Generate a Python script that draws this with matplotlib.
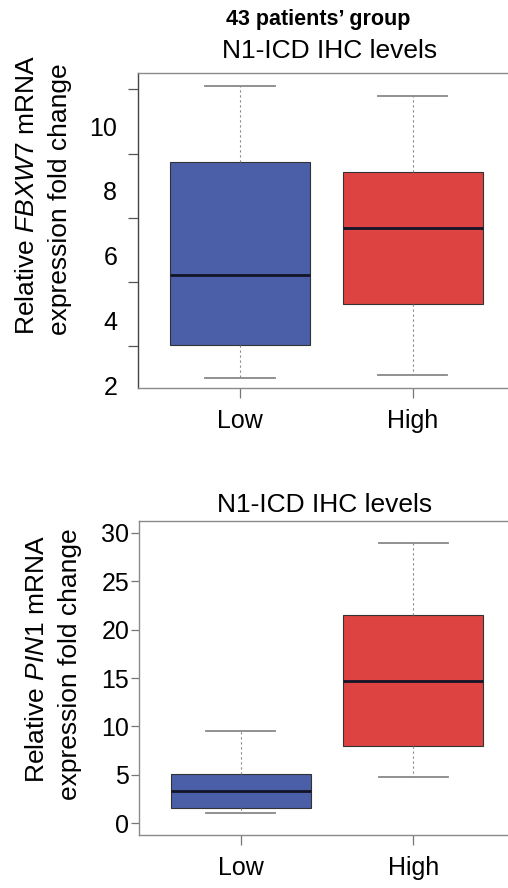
import matplotlib
matplotlib.use('Agg')
import matplotlib.pyplot as plt

plt.rcParams['font.family'] = ['Liberation Sans', 'DejaVu Sans']
plt.rcParams['mathtext.fontset'] = 'custom'
plt.rcParams['mathtext.rm'] = 'Liberation Sans'
plt.rcParams['mathtext.it'] = 'Liberation Sans:italic'

# data
groups = ['Low', 'High']
box_colors = ['#4b5ea8', '#dd4341']

fbxw7_whislo = [2.22, 2.31]
fbxw7_q1 = [3.24, 4.50]
fbxw7_med = [5.40, 6.85]
fbxw7_q3 = [8.89, 8.58]
fbxw7_whishi = [11.24, 10.93]
fbxw7_ticks = [2, 4, 6, 8, 10]
fbxw7_tick_marks = [3.2, 5.18, 7.16, 9.13, 11.14]

pin1_whislo = [1.03, 4.76]
pin1_q1 = [1.55, 7.97]
pin1_med = [3.31, 14.69]
pin1_q3 = [5.07, 21.5]
pin1_whishi = [9.52, 28.97]
pin1_ticks = [0, 5, 10, 15, 20, 25, 30]


def make_stats(lo, q1, med, q3, hi):
    return [dict(label=g, whislo=lo[i], q1=q1[i], med=med[i], q3=q3[i],
                 whishi=hi[i], fliers=[]) for i, g in enumerate(groups)]


def draw_box(ax, stats):
    bp = ax.bxp(stats, positions=[1, 2], widths=0.81, capwidths=0.40,
                patch_artist=True, showfliers=False,
                boxprops=dict(edgecolor='#333333', linewidth=0.8),
                medianprops=dict(color='#141428', linewidth=2),
                whiskerprops=dict(color='#888888', linewidth=0.8, linestyle=(0, (2, 2.5))),
                capprops=dict(color='#888888', linewidth=1.3))
    for patch, c in zip(bp['boxes'], box_colors):
        patch.set_facecolor(c)
    ax.set_xlim(0.41, 2.55)
    for s in ['left', 'bottom', 'top']:
        ax.spines[s].set_color('#8a8a8a')
        ax.spines[s].set_linewidth(1.0)
    ax.spines['right'].set_visible(False)
    ax.tick_params(axis='x', length=7, width=0.9, color='#777777', pad=8, labelsize=18)
    return bp


fig = plt.figure(figsize=(5.08, 8.88), dpi=100)

# top panel
ax1 = fig.add_axes([138 / 508, 1 - 388 / 888, 1 - 138 / 508, (388 - 73) / 888])
draw_box(ax1, make_stats(fbxw7_whislo, fbxw7_q1, fbxw7_med, fbxw7_q3, fbxw7_whishi))
ax1.set_ylim(1.91, 11.64)
ax1.set_yticks(fbxw7_ticks)
ax1.set_yticks(fbxw7_tick_marks, minor=True)
ax1.tick_params(axis='y', which='major', length=0, pad=15, labelsize=18)
ax1.tick_params(axis='y', which='minor', length=7, width=0.9, color='#555555')
ax1.spines['left'].set_color('#444444')

# bottom panel
ax2 = fig.add_axes([139 / 508, 1 - 835 / 888, 1 - 139 / 508, (835 - 521) / 888])
draw_box(ax2, make_stats(pin1_whislo, pin1_q1, pin1_med, pin1_q3, pin1_whishi))
ax2.set_ylim(-1.24, 31.24)
ax2.set_yticks(pin1_ticks)
ax2.tick_params(axis='y', length=6, width=0.9, color='#777777', pad=1, labelsize=18)

# titles
fig.text(318 / 508, 1 - 19 / 888, '43 patients’ group', ha='center', va='center',
         fontsize=15.5, fontweight='bold')
fig.text(330 / 508, 1 - 51 / 888, 'N1-ICD IHC levels', ha='center', va='center', fontsize=19)
fig.text(325 / 508, 1 - 505 / 888, 'N1-ICD IHC levels', ha='center', va='center', fontsize=19)

# y labels
fig.text(27 / 508, 1 - 195 / 888, 'Relative $\\mathit{FBXW7}$ mRNA', rotation=90,
         ha='center', va='center', fontsize=19)
fig.text(60 / 508, 1 - 199 / 888, 'expression fold change', rotation=90,
         ha='center', va='center', fontsize=19)
fig.text(37 / 508, 1 - 659 / 888, 'Relative $\\mathit{PIN1}$ mRNA', rotation=90,
         ha='center', va='center', fontsize=19)
fig.text(70 / 508, 1 - 664 / 888, 'expression fold change', rotation=90,
         ha='center', va='center', fontsize=19)

fig.savefig('out.png', dpi=100)
